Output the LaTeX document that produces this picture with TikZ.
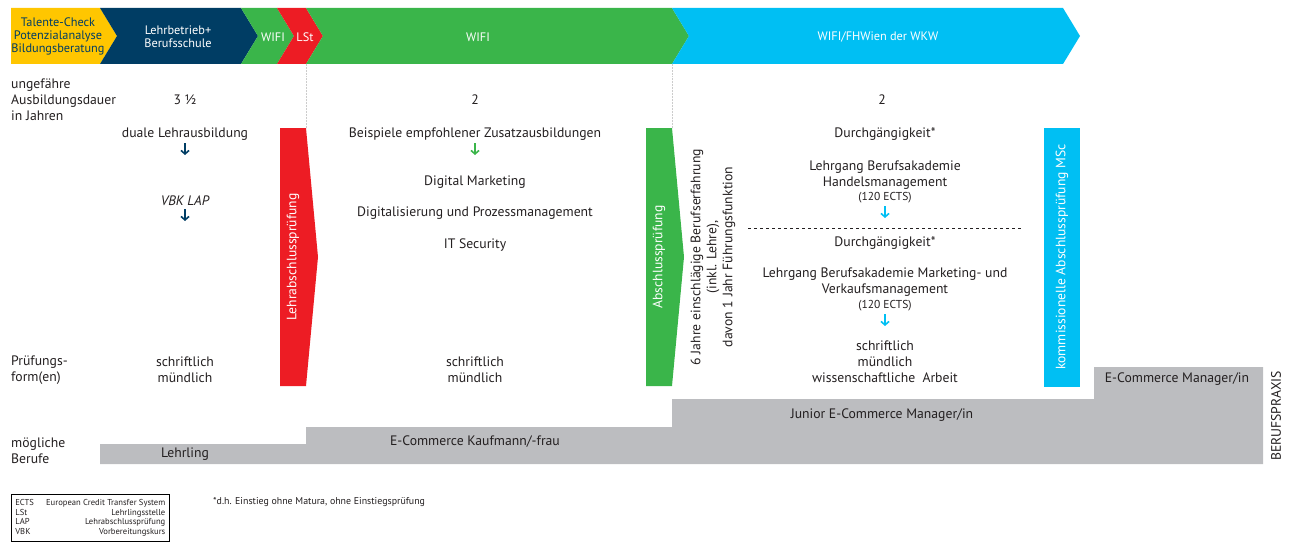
\documentclass[tikz,border=0pt]{standalone}
\usepackage{fontspec}
\setmainfont{PT Sans}
\usetikzlibrary{arrows.meta,positioning}

\definecolor{gelb}{RGB}{255,198,0}
\definecolor{navy}{RGB}{0,61,100}
\definecolor{gruen}{RGB}{58,181,74}
\definecolor{rot}{RGB}{237,28,36}
\definecolor{tuerkis}{RGB}{0,191,243}
\definecolor{grau}{RGB}{188,189,192}
\definecolor{schrift}{RGB}{35,31,32}

% band piece: from x #1 to x #2, colour #3, notch depth #4
\newcommand{\bandstueck}[4]{%
  \fill[#3] (#1,8) -- (#2,8) -- (#2+17,36) -- (#2,64) -- (#1,64) -- (#1+#4,36) -- cycle;}

\begin{document}
\begin{tikzpicture}[x=1pt,y=-1pt,inner sep=0pt,
    txt/.style={text=schrift,align=center,font=\fontsize{13.7}{16}\selectfont},
    klein/.style={text=schrift,align=center,font=\fontsize{11.5}{13}\selectfont},
    ban/.style={text=white,align=center,font=\fontsize{12.3}{13}\selectfont},
    senk/.style={text=white,rotate=90,font=\fontsize{13.6}{15}\selectfont},
    darr/.style={line width=1.6pt,-{Straight Barb[length=3.5pt,width=8pt]}},
    faint/.style={gray!40,densely dotted,line width=0.5pt}]
    \useasboundingbox (0,0) rectangle (1293,543);

    % top band
    \bandstueck{11}{100}{gelb}{0}
    \bandstueck{100}{241}{navy}{17}
    \bandstueck{241}{277}{gruen}{17}
    \bandstueck{277}{306}{rot}{17}
    \bandstueck{306}{672}{gruen}{17}
    \bandstueck{672}{1063}{tuerkis}{17}
    \node[ban,text=navy] (talent) at (58,36) {Talente-Check\\Potenzialanalyse\\Bildungsberatung};
    \node[ban] (lehrbetrieb) at (178,37) {Lehrbetrieb+\\Berufsschule};
    \node[ban] (wifi_a) at (273,37) {WIFI};
    \node[ban] (lst) at (305,37) {LSt};
    \node[ban] (wifi_b) at (478,37) {WIFI};
    \node[ban] (fh) at (878,37) {WIFI/FHWien der WKW};

    \draw[faint] (306,64) -- (306,128);
    \draw[faint] (672,64) -- (672,128);

    % exam bars
    \fill[rot] (280,128) -- (306,128) -- (318,257) -- (306,386) -- (280,386) -- cycle;
    \fill[gruen] (646,128) -- (672,128) -- (684,257) -- (672,386) -- (646,386) -- cycle;
    \fill[tuerkis] (1044,128) rectangle (1080,387);
    \node[senk] (lap) at (293,257) {Lehrabschlussprüfung};
    \node[senk] (ap) at (659,257) {Abschlussprüfung};
    \node[senk] (msc) at (1062,257) {kommissionelle Abschlussprüfung MSc};

    % occupations
    \fill[grau] (100,444) -- (306,444) -- (306,427) -- (672,427) -- (672,399)
        -- (1094,399) -- (1094,367) -- (1263,367) -- (1263,464) -- (100,464) -- cycle;
    \node[txt] (lehrling) at (185,454) {Lehrling};
    \node[txt] (kaufmann) at (475,442) {E-Commerce Kaufmann/-frau};
    \node[txt] (junior) at (882,415) {Junior E-Commerce Manager/in};
    \node[txt] (manager) at (1177,379) {E-Commerce Manager/in};
    \node[txt,rotate=90] (praxis) at (1276,416) {BERUFSPRAXIS};

    % row labels
    \node[txt,align=left,anchor=west] (dauer) at (11,100) {ungefähre\\Ausbildungsdauer\\in Jahren};
    \node[txt,align=left,anchor=west] (form) at (11,370) {Prüfungs-\\form(en)};
    \node[txt,align=left,anchor=west] (berufe) at (11,451) {mögliche\\Berufe};

    % column 1
    \node[txt] (jahre_1) at (185,100) {3 ½};
    \node[txt] (dual) at (185,134) {duale Lehrausbildung};
    \draw[darr,navy] (185,143) -- (185,155);
    \node[txt,font=\fontsize{13.7}{16}\itshape] (vbk) at (185,201) {VBK LAP};
    \draw[darr,navy] (185,209) -- (185,221);
    \node[txt] (pf_1) at (185,370) {schriftlich\\mündlich};

    % column 2
    \node[txt] (jahre_2) at (475,100) {2};
    \node[txt] (zusatz) at (475,134) {Beispiele empfohlener Zusatzausbildungen};
    \draw[darr,gruen] (475,143) -- (475,155);
    \node[txt] (dm) at (475,182) {Digital Marketing};
    \node[txt] (dp) at (475,213) {Digitalisierung und Prozessmanagement};
    \node[txt] (its) at (475,245) {IT Security};
    \node[txt] (pf_2) at (475,370) {schriftlich\\mündlich};

    \node[txt,rotate=90] (erfahrung) at (713,257)
        {6 Jahre einschlägige Berufserfahrung\\(inkl. Lehre),\\davon 1 Jahr Führungsfunktion};

    % column 3
    \node[txt] (jahre_3) at (882,100) {2};
    \node[txt] (durch_1) at (885,134) {Durchgängigkeit*};
    \node[txt] (lg_1) at (885,175) {Lehrgang Berufsakademie\\Handelsmanagement};
    \node[klein] (ects_1) at (885,198) {(120 ECTS)};
    \draw[darr,tuerkis] (885,206) -- (885,218);
    \draw[dashed,schrift,line width=0.6pt] (748,228) -- (1022,228);
    \node[txt] (durch_2) at (885,243) {Durchgängigkeit*};
    \node[txt] (lg_2) at (885,282) {Lehrgang Berufsakademie Marketing- und\\Verkaufsmanagement};
    \node[klein] (ects_2) at (885,306) {(120 ECTS)};
    \draw[darr,tuerkis] (885,314) -- (885,326);
    \node[txt] (pf_3) at (885,362) {schriftlich\\mündlich\\wissenschaftliche\ \ Arbeit};

    % legend and footnote
    \node[draw,line width=0.7pt,anchor=north west,minimum width=158pt,minimum height=47pt,
        text=schrift,font=\fontsize{8.6}{9.5}\selectfont] (legende) at (11,494)
        {\begin{tabular*}{150pt}{@{}l@{\extracolsep{\fill}}r@{}}
         ECTS & European Credit Transfer System\\
         LSt & Lehrlingsstelle\\
         LAP & Lehrabschlussprüfung\\
         VBK & Vorbereitungskurs
         \end{tabular*}};
    \node[klein,anchor=west,font=\fontsize{9.9}{11}\selectfont] (fussnote) at (213,502)
        {*d.h. Einstieg ohne Matura, ohne Einstiegsprüfung};
\end{tikzpicture}
\end{document}
